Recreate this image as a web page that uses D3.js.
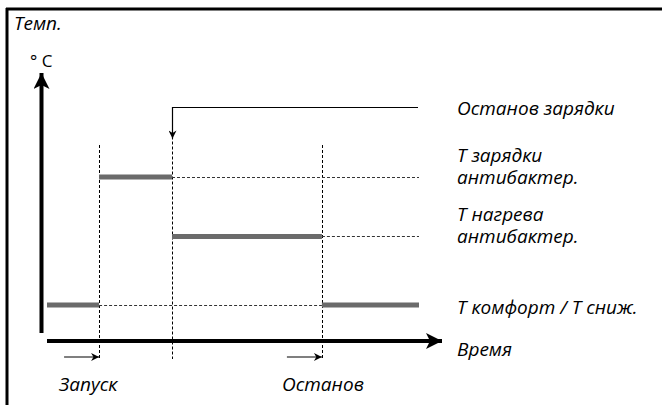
<!DOCTYPE html>
<html lang="ru">
<head>
<meta charset="UTF-8"/>
<title>Темп. / Время</title>
<script src="https://d3js.org/d3.v7.min.js"></script>
<style>
    body { margin: 0; background: #fff; }
    text { font-family: "Open Sans", sans-serif; font-style: italic; font-size: 19px; fill: #000; }
</style>
</head>
<body>
<script>
    // Time markers (arbitrary units) and temperature levels
    var events = ["start", "chargeStop", "stop"];
    var eventTimes = [1.4, 3.36, 7.39];
    var levelNames = ["comfort", "heat", "charge"];
    var levelValues = [13.4, 39, 61.2];
    var noteLevel = 87.5;

    // Heating profile: [from, to, level index]
    var segStart = [0, 1.4, 3.36, 7.39];
    var segEnd = [1.4, 3.36, 7.39, 10];
    var segLevel = [0, 2, 1, 0];

    var levelLabels = [["Т комфорт / Т сниж."], ["Т нагрева", "антибактер."], ["Т зарядки", "антибактер."]];
    var eventLabels = ["Запуск", "Останов"];

    var w = 662, h = 405;

    var x = d3.scaleLinear().domain([0, 10]).range([47, 419]);
    var y = d3.scaleLinear().domain([0, 100]).range([341, 73]);

    var svg = d3.select("body").append("svg")
                .attr("width", w)
                .attr("height", h);

    var defs = svg.append("defs");
    defs.append("marker")
        .attr("id", "bigArrow")
        .attr("viewBox", "0 0 10 10")
        .attr("refX", 10).attr("refY", 5)
        .attr("markerUnits", "userSpaceOnUse")
        .attr("markerWidth", 24).attr("markerHeight", 16)
        .attr("orient", "auto")
        .append("path").attr("d", "M0,0 L10,5 L0,10 L2.5,5 Z").attr("fill", "#000");
    defs.append("marker")
        .attr("id", "smallArrow")
        .attr("viewBox", "0 0 10 10")
        .attr("refX", 10).attr("refY", 5)
        .attr("markerUnits", "userSpaceOnUse")
        .attr("markerWidth", 12).attr("markerHeight", 8)
        .attr("orient", "auto")
        .append("path").attr("d", "M0,0 L10,5 L0,10 L3,5 Z").attr("fill", "#000");

    // Frame (top and left only)
    svg.append("line").attr("x1", 6).attr("x2", w).attr("y1", 9).attr("y2", 9)
       .attr("stroke", "#000").attr("stroke-width", 3);
    svg.append("line").attr("x1", 7).attr("x2", 7).attr("y1", 8).attr("y2", h)
       .attr("stroke", "#000").attr("stroke-width", 3);

    // Vertical dashed markers
    svg.selectAll(".vmark")
       .data(eventTimes)
       .enter()
       .append("line")
       .attr("class", "vmark")
       .attr("x1", function(d) { return Math.round(x(d)) + 0.5; })
       .attr("x2", function(d) { return Math.round(x(d)) + 0.5; })
       .attr("y1", function(d, i) { return i == 1 ? y(noteLevel) + 30 : 145; })
       .attr("y2", 359)
       .attr("stroke", "#000")
       .attr("stroke-width", 1)
       .attr("stroke-dasharray", "3,2");

    // Horizontal dashed level guides (from the end of each level's segment)
    var guideFrom = [eventTimes[0], eventTimes[2], eventTimes[1]];
    var guideTo = [eventTimes[2], 10, 10];
    svg.selectAll(".hmark")
       .data(levelValues)
       .enter()
       .append("line")
       .attr("class", "hmark")
       .attr("x1", function(d, i) { return x(guideFrom[i]); })
       .attr("x2", function(d, i) { return x(guideTo[i]); })
       .attr("y1", function(d) { return Math.round(y(d)) + 0.5; })
       .attr("y2", function(d) { return Math.round(y(d)) + 0.5; })
       .attr("stroke", "#333")
       .attr("stroke-width", 1)
       .attr("stroke-dasharray", "3,2");

    // Temperature profile segments
    svg.selectAll(".seg")
       .data(segStart)
       .enter()
       .append("line")
       .attr("class", "seg")
       .attr("x1", function(d) { return x(d); })
       .attr("x2", function(d, i) { return x(segEnd[i]); })
       .attr("y1", function(d, i) { return y(levelValues[segLevel[i]]); })
       .attr("y2", function(d, i) { return y(levelValues[segLevel[i]]); })
       .attr("stroke", "#6b6b6b")
       .attr("stroke-width", 5);

    // Axes
    svg.append("line")
       .attr("x1", 41.5).attr("x2", 41.5)
       .attr("y1", 333).attr("y2", 73)
       .attr("stroke", "#000").attr("stroke-width", 4)
       .attr("marker-end", "url(#bigArrow)");
    svg.append("line")
       .attr("x1", 47).attr("x2", 442)
       .attr("y1", 341).attr("y2", 341)
       .attr("stroke", "#000").attr("stroke-width", 4)
       .attr("marker-end", "url(#bigArrow)");

    // "Charge stop" callout arrow
    svg.append("path")
       .attr("d", "M" + 418 + "," + (Math.round(y(noteLevel)) + 0.5) +
                  " H" + (Math.round(x(eventTimes[1])) + 0.5) +
                  " V" + (y(noteLevel) + 32))
       .attr("fill", "none")
       .attr("stroke", "#000")
       .attr("stroke-width", 1.2)
       .attr("marker-end", "url(#smallArrow)");

    // Small arrows under start / stop
    [eventTimes[0], eventTimes[2]].forEach(function(t) {
        svg.append("line")
           .attr("x1", x(t) - 35).attr("x2", x(t))
           .attr("y1", 357).attr("y2", 357)
           .attr("stroke", "#000").attr("stroke-width", 1.2)
           .attr("marker-end", "url(#smallArrow)");
    });

    // Labels
    svg.append("text").attr("x", 14).attr("y", 30).text("Темп.");
    svg.append("text").attr("x", 30).attr("y", 67)
       .style("font-style", "normal").style("font-size", "17px").text("° C");
    svg.append("text").attr("x", 457).attr("y", 356).text("Время");
    svg.append("text").attr("x", 457).attr("y", y(noteLevel) + 8).text("Останов зарядки");

    var lbl = svg.selectAll(".lvl")
                 .data(levelValues)
                 .enter()
                 .append("text")
                 .attr("class", "lvl")
                 .attr("x", 457)
                 .attr("y", function(d, i) { return y(d) + (levelLabels[i].length == 1 ? 9 : -15); });
    lbl.selectAll("tspan")
       .data(function(d, i) { return levelLabels[i]; })
       .enter()
       .append("tspan")
       .attr("x", 457)
       .attr("dy", function(d, j) { return j == 0 ? 0 : 22; })
       .text(function(d) { return d; });

    svg.selectAll(".evt")
       .data(eventLabels)
       .enter()
       .append("text")
       .attr("class", "evt")
       .attr("x", function(d, i) { return i == 0 ? 59 : 282; })
       .attr("y", 391)
       .text(function(d) { return d; });
</script>
</body>
</html>
